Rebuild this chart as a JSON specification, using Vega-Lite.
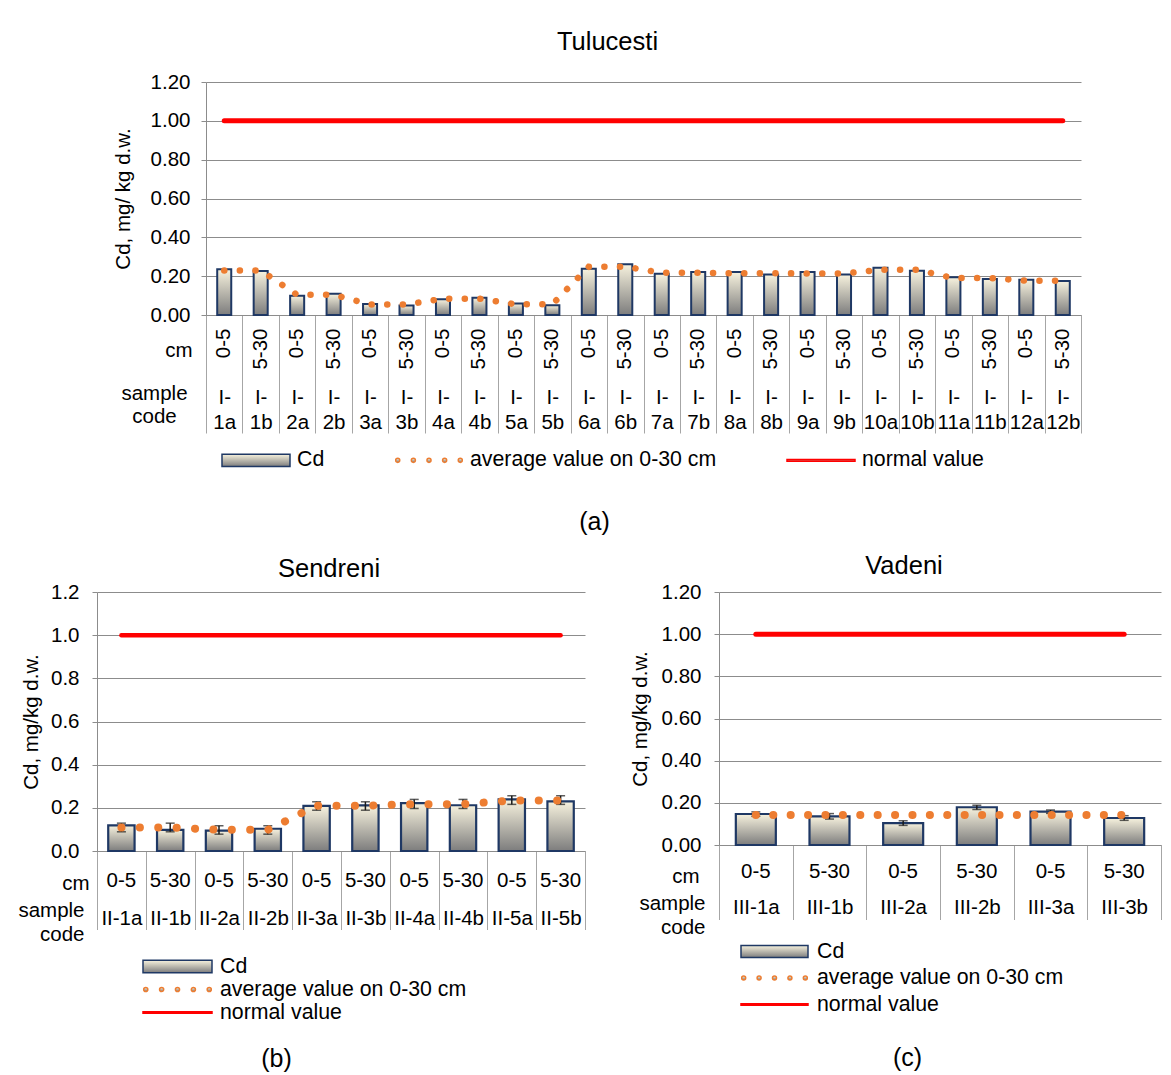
{
"$schema": "https://vega.github.io/schema/vega-lite/v6.json",
"padding": {"left": 17, "top": 29, "right": 0, "bottom": 0},
"background": "white",
"config": {
  "font": "Liberation Sans",
  "view": {"stroke": null},
  "title": {"font": "Liberation Sans", "fontWeight": "normal", "color": "#000000", "fontSize": 25.5, "frame": "group"},
  "axis": {"labelFont": "Liberation Sans", "titleFont": "Liberation Sans", "labelColor": "#000000", "titleColor": "#000000", "titleFontWeight": "normal", "domainColor": "#8c8c8c", "tickColor": "#8c8c8c", "gridColor": "#8c8c8c", "labelFontSize": 20.5, "titleFontSize": 20.5, "labelOverlap": false, "labelBound": false, "labelFlush": false},
  "axisY": {"grid": true, "tickSize": 5},
  "axisX": {"grid": false},
  "legend": {"labelFont": "Liberation Sans", "labelColor": "#000000", "labelFontSize": 21.3, "labelLimit": 400}
},
"spacing": 20,
"resolve": {"scale": {"stroke": "independent"}, "legend": {"stroke": "independent"}},
"vconcat": [
{
  "spacing": 0,
  "resolve": {"scale": {"stroke": "independent"}, "legend": {"stroke": "independent"}},
  "hconcat": [
  {"width": 16, "height": 10, "data": {"values": []}, "mark": "point"},
  {
  "width": 875, "height": 233,
  "title": {"text": "Tulucesti", "dx": -36, "offset": 17},
  "data": {"values": [
    {"code":"I-1a","depth":"0-5","value":0.235,"avg":0.229,"normal":1},
    {"code":"I-1b","depth":"5-30","value":0.226,"avg":0.229,"normal":1},
    {"code":"I-2a","depth":"0-5","value":0.099,"avg":0.104,"normal":1},
    {"code":"I-2b","depth":"5-30","value":0.110,"avg":0.104,"normal":1},
    {"code":"I-3a","depth":"0-5","value":0.057,"avg":0.054,"normal":1},
    {"code":"I-3b","depth":"5-30","value":0.049,"avg":0.054,"normal":1},
    {"code":"I-4a","depth":"0-5","value":0.081,"avg":0.084,"normal":1},
    {"code":"I-4b","depth":"5-30","value":0.089,"avg":0.084,"normal":1},
    {"code":"I-5a","depth":"0-5","value":0.059,"avg":0.055,"normal":1},
    {"code":"I-5b","depth":"5-30","value":0.050,"avg":0.055,"normal":1},
    {"code":"I-6a","depth":"0-5","value":0.238,"avg":0.249,"normal":1},
    {"code":"I-6b","depth":"5-30","value":0.262,"avg":0.249,"normal":1},
    {"code":"I-7a","depth":"0-5","value":0.212,"avg":0.217,"normal":1},
    {"code":"I-7b","depth":"5-30","value":0.222,"avg":0.217,"normal":1},
    {"code":"I-8a","depth":"0-5","value":0.221,"avg":0.215,"normal":1},
    {"code":"I-8b","depth":"5-30","value":0.209,"avg":0.215,"normal":1},
    {"code":"I-9a","depth":"0-5","value":0.221,"avg":0.214,"normal":1},
    {"code":"I-9b","depth":"5-30","value":0.209,"avg":0.214,"normal":1},
    {"code":"I-10a","depth":"0-5","value":0.243,"avg":0.233,"normal":1},
    {"code":"I-10b","depth":"5-30","value":0.228,"avg":0.233,"normal":1},
    {"code":"I-11a","depth":"0-5","value":0.195,"avg":0.190,"normal":1},
    {"code":"I-11b","depth":"5-30","value":0.186,"avg":0.190,"normal":1},
    {"code":"I-12a","depth":"0-5","value":0.181,"avg":0.177,"normal":1},
    {"code":"I-12b","depth":"5-30","value":0.175,"avg":0.177,"normal":1}
  ]},
  "layer": [
    {
      "mark": {"type": "bar", "width": {"band": 0.385}, "strokeWidth": 2,
        "fill": {"gradient": "linear", "x1": 0, "y1": 0, "x2": 0, "y2": 1, "stops": [{"offset": 0, "color": "#f7f2de"}, {"offset": 1, "color": "#7d7d7d"}]}},
      "encoding": {
        "x": {"field": "code", "type": "nominal", "sort": null, "scale": {"paddingInner": 0, "paddingOuter": 0},
          "axis": {"orient": "bottom", "ticks": false, "domain": false, "labelAngle": -90, "labelPadding": 13,
            "labelExpr": "slice(datum.label, -1) == 'a' ? '0-5' : '5-30'",
            "title": "cm", "titleX": -14, "titleY": 35, "titleAlign": "right", "titleBaseline": "middle"}},
        "y": {"field": "value", "type": "quantitative", "scale": {"domain": [0, 1.2], "nice": false},
          "axis": {"values": [0, 0.2, 0.4, 0.6, 0.8, 1, 1.2], "format": ".2f", "title": "Cd, mg/ kg d.w.", "labelPadding": 11, "titlePadding": 17}},
        "stroke": {"datum": "Cd", "type": "nominal",
          "scale": {"domain": ["Cd", "average value on 0-30 cm", "normal value"], "range": ["#1f3864", "#ed7d31", "#ff0000"]},
          "legend": {"orient": "none", "legendX": 15, "legendY": 368, "direction": "horizontal", "title": null,
            "symbolSize": 4624, "clipHeight": 20, "columnPadding": 69, "labelOffset": 6, "symbolOpacity": 1,
            "symbolType": {"expr": "datum.value === 'Cd' ? 'M-1,-0.18H1V0.18H-1Z' : datum.value === 'normal value' ? 'M-1,-0.025H1V0.025H-1Z' : 'M-0.98,0a0.06,0.06 0 1,0 0.12,0a0.06,0.06 0 1,0 -0.12,0M-0.52,0a0.06,0.06 0 1,0 0.12,0a0.06,0.06 0 1,0 -0.12,0M-0.06,0a0.06,0.06 0 1,0 0.12,0a0.06,0.06 0 1,0 -0.12,0M0.4,0a0.06,0.06 0 1,0 0.12,0a0.06,0.06 0 1,0 -0.12,0M0.86,0a0.06,0.06 0 1,0 0.12,0a0.06,0.06 0 1,0 -0.12,0'"}}}
      }
    },
    {
      "mark": {"type": "line", "stroke": "#ed7d31", "strokeWidth": 6.5, "strokeDash": [0.1, 15.5], "strokeCap": "round"},
      "encoding": {
        "x": {"field": "code", "type": "nominal", "sort": null, "scale": {"paddingInner": 0, "paddingOuter": 0},
          "axis": {"orient": "bottom", "ticks": false, "domain": false, "labelAngle": 0, "labelPadding": 82, "labelBaseline": "middle", "labelLineHeight": 25,
            "labelExpr": "[slice(datum.label, 0, 2), slice(datum.label, 2)]",
            "title": ["sample", "code"], "titleX": -52, "titleY": 78, "titleAlign": "center", "titleBaseline": "middle", "titleLineHeight": 23}},
        "y": {"field": "avg", "type": "quantitative", "scale": {"domain": [0, 1.2], "nice": false},
          "axis": {"values": [0, 0.2, 0.4, 0.6, 0.8, 1, 1.2], "format": ".2f", "title": "Cd, mg/ kg d.w.", "labelPadding": 11, "titlePadding": 17}}
      }
    },
    {
      "mark": {"type": "line", "stroke": "#ff0000", "strokeWidth": 5, "strokeCap": "round"},
      "encoding": {
        "x": {"field": "code", "type": "nominal", "sort": null, "scale": {"paddingInner": 0, "paddingOuter": 0},
          "axis": {"orient": "bottom", "labels": false, "ticks": true, "tickBand": "extent", "tickSize": 118, "tickColor": "#a6a6a6", "domain": true,
            "title": "(a)", "titleX": 388, "titleY": 206, "titleAlign": "center", "titleBaseline": "middle", "titleFontSize": 25}},
        "y": {"field": "normal", "type": "quantitative", "scale": {"domain": [0, 1.2], "nice": false},
          "axis": {"values": [0, 0.2, 0.4, 0.6, 0.8, 1, 1.2], "format": ".2f", "title": "Cd, mg/ kg d.w.", "labelPadding": 11, "titlePadding": 17}}
      }
    }
  ],
  "resolve": {"scale": {"x": "independent"}, "axis": {"x": "independent"}}
  }
  ]
},
{
  "spacing": 44,
  "resolve": {"scale": {"stroke": "independent"}, "legend": {"stroke": "independent"}},
  "hconcat": [
  {
    "width": 488, "height": 259,
    "title": {"text": "Sendreni", "dx": -12, "offset": 0},
    "data": {"values": [
      {"code":"II-1a","depth":"0-5","value":0.119,"avg":0.109,"errLow":0.089,"errHigh":0.129,"normal":1},
      {"code":"II-1b","depth":"5-30","value":0.098,"avg":0.109,"errLow":0.089,"errHigh":0.129,"normal":1},
      {"code":"II-2a","depth":"0-5","value":0.094,"avg":0.098,"errLow":0.078,"errHigh":0.117,"normal":1},
      {"code":"II-2b","depth":"5-30","value":0.103,"avg":0.098,"errLow":0.078,"errHigh":0.117,"normal":1},
      {"code":"II-3a","depth":"0-5","value":0.209,"avg":0.210,"errLow":0.189,"errHigh":0.228,"normal":1},
      {"code":"II-3b","depth":"5-30","value":0.211,"avg":0.210,"errLow":0.189,"errHigh":0.228,"normal":1},
      {"code":"II-4a","depth":"0-5","value":0.222,"avg":0.217,"errLow":0.197,"errHigh":0.239,"normal":1},
      {"code":"II-4b","depth":"5-30","value":0.212,"avg":0.217,"errLow":0.197,"errHigh":0.239,"normal":1},
      {"code":"II-5a","depth":"0-5","value":0.239,"avg":0.234,"errLow":0.216,"errHigh":0.256,"normal":1},
      {"code":"II-5b","depth":"5-30","value":0.230,"avg":0.234,"errLow":0.216,"errHigh":0.256,"normal":1}
    ]},
    "layer": [
      {
        "mark": {"type": "bar", "width": {"band": 0.54}, "strokeWidth": 2.2,
          "fill": {"gradient": "linear", "x1": 0, "y1": 0, "x2": 0, "y2": 1, "stops": [{"offset": 0, "color": "#f7f2de"}, {"offset": 1, "color": "#7d7d7d"}]}},
        "encoding": {
          "x": {"field": "code", "type": "nominal", "sort": null, "scale": {"paddingInner": 0, "paddingOuter": 0},
            "axis": {"orient": "bottom", "ticks": false, "domain": false, "labelAngle": 0, "labelPadding": 29.5, "labelBaseline": "middle",
              "labelExpr": "slice(datum.label, -1) == 'a' ? '0-5' : '5-30'",
              "title": "cm", "titleX": -8, "titleY": 32.5, "titleAlign": "right", "titleBaseline": "middle"}},
          "y": {"field": "value", "type": "quantitative", "scale": {"domain": [0, 1.2], "nice": false},
            "axis": {"values": [0, 0.2, 0.4, 0.6, 0.8, 1, 1.2], "format": ".1f", "title": "Cd, mg/kg d.w.", "labelPadding": 13, "titlePadding": 9}},
          "stroke": {"datum": "Cd", "type": "nominal",
            "scale": {"domain": ["Cd", "average value on 0-30 cm", "normal value"], "range": ["#1f3864", "#ed7d31", "#ff0000"]},
            "legend": {"orient": "none", "legendX": 45, "legendY": 366.5, "direction": "vertical", "title": null,
              "symbolSize": 4761, "clipHeight": 16, "rowPadding": 1, "labelOffset": 7, "symbolOpacity": 1,
              "symbolType": {"expr": "datum.value === 'Cd' ? 'M-1,-0.18H1V0.18H-1Z' : datum.value === 'normal value' ? 'M-1,-0.025H1V0.025H-1Z' : 'M-0.98,0a0.06,0.06 0 1,0 0.12,0a0.06,0.06 0 1,0 -0.12,0M-0.52,0a0.06,0.06 0 1,0 0.12,0a0.06,0.06 0 1,0 -0.12,0M-0.06,0a0.06,0.06 0 1,0 0.12,0a0.06,0.06 0 1,0 -0.12,0M0.4,0a0.06,0.06 0 1,0 0.12,0a0.06,0.06 0 1,0 -0.12,0M0.86,0a0.06,0.06 0 1,0 0.12,0a0.06,0.06 0 1,0 -0.12,0'"}}}
        }
      },
      {
        "mark": {"type": "rule", "color": "#1a1a1a", "strokeWidth": 1.5},
        "encoding": {
          "x": {"field": "code", "type": "nominal", "sort": null, "scale": {"paddingInner": 0, "paddingOuter": 0}, "axis": null},
          "y": {"field": "errLow", "type": "quantitative", "scale": {"domain": [0, 1.2], "nice": false},
            "axis": {"values": [0, 0.2, 0.4, 0.6, 0.8, 1, 1.2], "format": ".1f", "title": "Cd, mg/kg d.w.", "labelPadding": 13, "titlePadding": 9}},
          "y2": {"field": "errHigh"}
        }
      },
      {
        "mark": {"type": "tick", "color": "#1a1a1a", "size": 9, "thickness": 1.5},
        "encoding": {
          "x": {"field": "code", "type": "nominal", "sort": null, "scale": {"paddingInner": 0, "paddingOuter": 0}, "axis": null},
          "y": {"field": "errLow", "type": "quantitative", "scale": {"domain": [0, 1.2], "nice": false},
            "axis": {"values": [0, 0.2, 0.4, 0.6, 0.8, 1, 1.2], "format": ".1f", "title": "Cd, mg/kg d.w.", "labelPadding": 13, "titlePadding": 9}}
        }
      },
      {
        "mark": {"type": "tick", "color": "#1a1a1a", "size": 9, "thickness": 1.5},
        "encoding": {
          "x": {"field": "code", "type": "nominal", "sort": null, "scale": {"paddingInner": 0, "paddingOuter": 0}, "axis": null},
          "y": {"field": "errHigh", "type": "quantitative", "scale": {"domain": [0, 1.2], "nice": false},
            "axis": {"values": [0, 0.2, 0.4, 0.6, 0.8, 1, 1.2], "format": ".1f", "title": "Cd, mg/kg d.w.", "labelPadding": 13, "titlePadding": 9}}
        }
      },
      {
        "mark": {"type": "line", "stroke": "#ed7d31", "strokeWidth": 8, "strokeDash": [0.1, 18.3], "strokeCap": "round"},
        "encoding": {
          "x": {"field": "code", "type": "nominal", "sort": null, "scale": {"paddingInner": 0, "paddingOuter": 0},
            "axis": {"orient": "bottom", "ticks": false, "domain": false, "labelAngle": 0, "labelPadding": 67.5, "labelBaseline": "middle",
              "title": ["sample", "code"], "titleX": -13, "titleY": 59.5, "titleAlign": "right", "titleBaseline": "middle", "titleLineHeight": 24}},
          "y": {"field": "avg", "type": "quantitative", "scale": {"domain": [0, 1.2], "nice": false},
            "axis": {"values": [0, 0.2, 0.4, 0.6, 0.8, 1, 1.2], "format": ".1f", "title": "Cd, mg/kg d.w.", "labelPadding": 13, "titlePadding": 9}}
        }
      },
      {
        "mark": {"type": "line", "stroke": "#ff0000", "strokeWidth": 4.5, "strokeCap": "round"},
        "encoding": {
          "x": {"field": "code", "type": "nominal", "sort": null, "scale": {"paddingInner": 0, "paddingOuter": 0},
            "axis": {"orient": "bottom", "labels": false, "ticks": true, "tickBand": "extent", "tickSize": 78.5, "tickColor": "#a6a6a6", "domain": true,
              "title": "(b)", "titleX": 179, "titleY": 207.5, "titleAlign": "center", "titleBaseline": "middle", "titleFontSize": 25}},
          "y": {"field": "normal", "type": "quantitative", "scale": {"domain": [0, 1.2], "nice": false},
            "axis": {"values": [0, 0.2, 0.4, 0.6, 0.8, 1, 1.2], "format": ".1f", "title": "Cd, mg/kg d.w.", "labelPadding": 13, "titlePadding": 9}}
        }
      }
    ],
    "resolve": {"scale": {"x": "independent"}, "axis": {"x": "independent"}}
  },
  {
    "width": 442, "height": 253,
    "title": {"text": "Vadeni", "dx": -36, "offset": 2.5},
    "data": {"values": [
      {"code":"III-1a","depth":"0-5","value":0.147,"avg":0.142,"errLow":0.136,"errHigh":0.157,"normal":1},
      {"code":"III-1b","depth":"5-30","value":0.136,"avg":0.142,"errLow":0.123,"errHigh":0.149,"normal":1},
      {"code":"III-2a","depth":"0-5","value":0.104,"avg":0.142,"errLow":0.093,"errHigh":0.115,"normal":1},
      {"code":"III-2b","depth":"5-30","value":0.179,"avg":0.142,"errLow":0.168,"errHigh":0.189,"normal":1},
      {"code":"III-3a","depth":"0-5","value":0.158,"avg":0.142,"errLow":0.150,"errHigh":0.166,"normal":1},
      {"code":"III-3b","depth":"5-30","value":0.128,"avg":0.142,"errLow":0.117,"errHigh":0.139,"normal":1}
    ]},
    "layer": [
      {
        "mark": {"type": "bar", "width": {"band": 0.543}, "strokeWidth": 2.2,
          "fill": {"gradient": "linear", "x1": 0, "y1": 0, "x2": 0, "y2": 1, "stops": [{"offset": 0, "color": "#f7f2de"}, {"offset": 1, "color": "#7d7d7d"}]}},
        "encoding": {
          "x": {"field": "code", "type": "nominal", "sort": null, "scale": {"paddingInner": 0, "paddingOuter": 0},
            "axis": {"orient": "bottom", "ticks": false, "domain": false, "labelAngle": 0, "labelPadding": 26.5, "labelBaseline": "middle",
              "labelExpr": "slice(datum.label, -1) == 'a' ? '0-5' : '5-30'",
              "title": "cm", "titleX": -20, "titleY": 31.5, "titleAlign": "right", "titleBaseline": "middle"}},
          "y": {"field": "value", "type": "quantitative", "scale": {"domain": [0, 1.2], "nice": false},
            "axis": {"values": [0, 0.2, 0.4, 0.6, 0.8, 1, 1.2], "format": ".2f", "title": "Cd, mg/kg d.w.", "labelPadding": 13, "titlePadding": 11}},
          "stroke": {"datum": "Cd", "type": "nominal",
            "scale": {"domain": ["Cd", "average value on 0-30 cm", "normal value"], "range": ["#1f3864", "#ed7d31", "#ff0000"]},
            "legend": {"orient": "none", "legendX": 21, "legendY": 351.5, "direction": "vertical", "title": null,
              "symbolSize": 4489, "clipHeight": 16, "rowPadding": 4.5, "labelOffset": 8, "symbolOpacity": 1,
              "symbolType": {"expr": "datum.value === 'Cd' ? 'M-1,-0.18H1V0.18H-1Z' : datum.value === 'normal value' ? 'M-1,-0.025H1V0.025H-1Z' : 'M-0.98,0a0.06,0.06 0 1,0 0.12,0a0.06,0.06 0 1,0 -0.12,0M-0.52,0a0.06,0.06 0 1,0 0.12,0a0.06,0.06 0 1,0 -0.12,0M-0.06,0a0.06,0.06 0 1,0 0.12,0a0.06,0.06 0 1,0 -0.12,0M0.4,0a0.06,0.06 0 1,0 0.12,0a0.06,0.06 0 1,0 -0.12,0M0.86,0a0.06,0.06 0 1,0 0.12,0a0.06,0.06 0 1,0 -0.12,0'"}}}
        }
      },
      {
        "mark": {"type": "rule", "color": "#1a1a1a", "strokeWidth": 1.5},
        "encoding": {
          "x": {"field": "code", "type": "nominal", "sort": null, "scale": {"paddingInner": 0, "paddingOuter": 0}, "axis": null},
          "y": {"field": "errLow", "type": "quantitative", "scale": {"domain": [0, 1.2], "nice": false},
            "axis": {"values": [0, 0.2, 0.4, 0.6, 0.8, 1, 1.2], "format": ".2f", "title": "Cd, mg/kg d.w.", "labelPadding": 13, "titlePadding": 11}},
          "y2": {"field": "errHigh"}
        }
      },
      {
        "mark": {"type": "tick", "color": "#1a1a1a", "size": 9, "thickness": 1.5},
        "encoding": {
          "x": {"field": "code", "type": "nominal", "sort": null, "scale": {"paddingInner": 0, "paddingOuter": 0}, "axis": null},
          "y": {"field": "errLow", "type": "quantitative", "scale": {"domain": [0, 1.2], "nice": false},
            "axis": {"values": [0, 0.2, 0.4, 0.6, 0.8, 1, 1.2], "format": ".2f", "title": "Cd, mg/kg d.w.", "labelPadding": 13, "titlePadding": 11}}
        }
      },
      {
        "mark": {"type": "tick", "color": "#1a1a1a", "size": 9, "thickness": 1.5},
        "encoding": {
          "x": {"field": "code", "type": "nominal", "sort": null, "scale": {"paddingInner": 0, "paddingOuter": 0}, "axis": null},
          "y": {"field": "errHigh", "type": "quantitative", "scale": {"domain": [0, 1.2], "nice": false},
            "axis": {"values": [0, 0.2, 0.4, 0.6, 0.8, 1, 1.2], "format": ".2f", "title": "Cd, mg/kg d.w.", "labelPadding": 13, "titlePadding": 11}}
        }
      },
      {
        "mark": {"type": "line", "stroke": "#ed7d31", "strokeWidth": 8, "strokeDash": [0.1, 17.3], "strokeCap": "round"},
        "encoding": {
          "x": {"field": "code", "type": "nominal", "sort": null, "scale": {"paddingInner": 0, "paddingOuter": 0},
            "axis": {"orient": "bottom", "ticks": false, "domain": false, "labelAngle": 0, "labelPadding": 62.5, "labelBaseline": "middle",
              "title": ["sample", "code"], "titleX": -14, "titleY": 58.5, "titleAlign": "right", "titleBaseline": "middle", "titleLineHeight": 24}},
          "y": {"field": "avg", "type": "quantitative", "scale": {"domain": [0, 1.2], "nice": false},
            "axis": {"values": [0, 0.2, 0.4, 0.6, 0.8, 1, 1.2], "format": ".2f", "title": "Cd, mg/kg d.w.", "labelPadding": 13, "titlePadding": 11}}
        }
      },
      {
        "mark": {"type": "line", "stroke": "#ff0000", "strokeWidth": 5, "strokeCap": "round"},
        "encoding": {
          "x": {"field": "code", "type": "nominal", "sort": null, "scale": {"paddingInner": 0, "paddingOuter": 0},
            "axis": {"orient": "bottom", "labels": false, "ticks": true, "tickBand": "extent", "tickSize": 74.5, "tickColor": "#a6a6a6", "domain": true,
              "title": "(c)", "titleX": 188, "titleY": 212.5, "titleAlign": "center", "titleBaseline": "middle", "titleFontSize": 25}},
          "y": {"field": "normal", "type": "quantitative", "scale": {"domain": [0, 1.2], "nice": false},
            "axis": {"values": [0, 0.2, 0.4, 0.6, 0.8, 1, 1.2], "format": ".2f", "title": "Cd, mg/kg d.w.", "labelPadding": 13, "titlePadding": 11}}
        }
      }
    ],
    "resolve": {"scale": {"x": "independent"}, "axis": {"x": "independent"}}
  }
  ]
}
]
}
